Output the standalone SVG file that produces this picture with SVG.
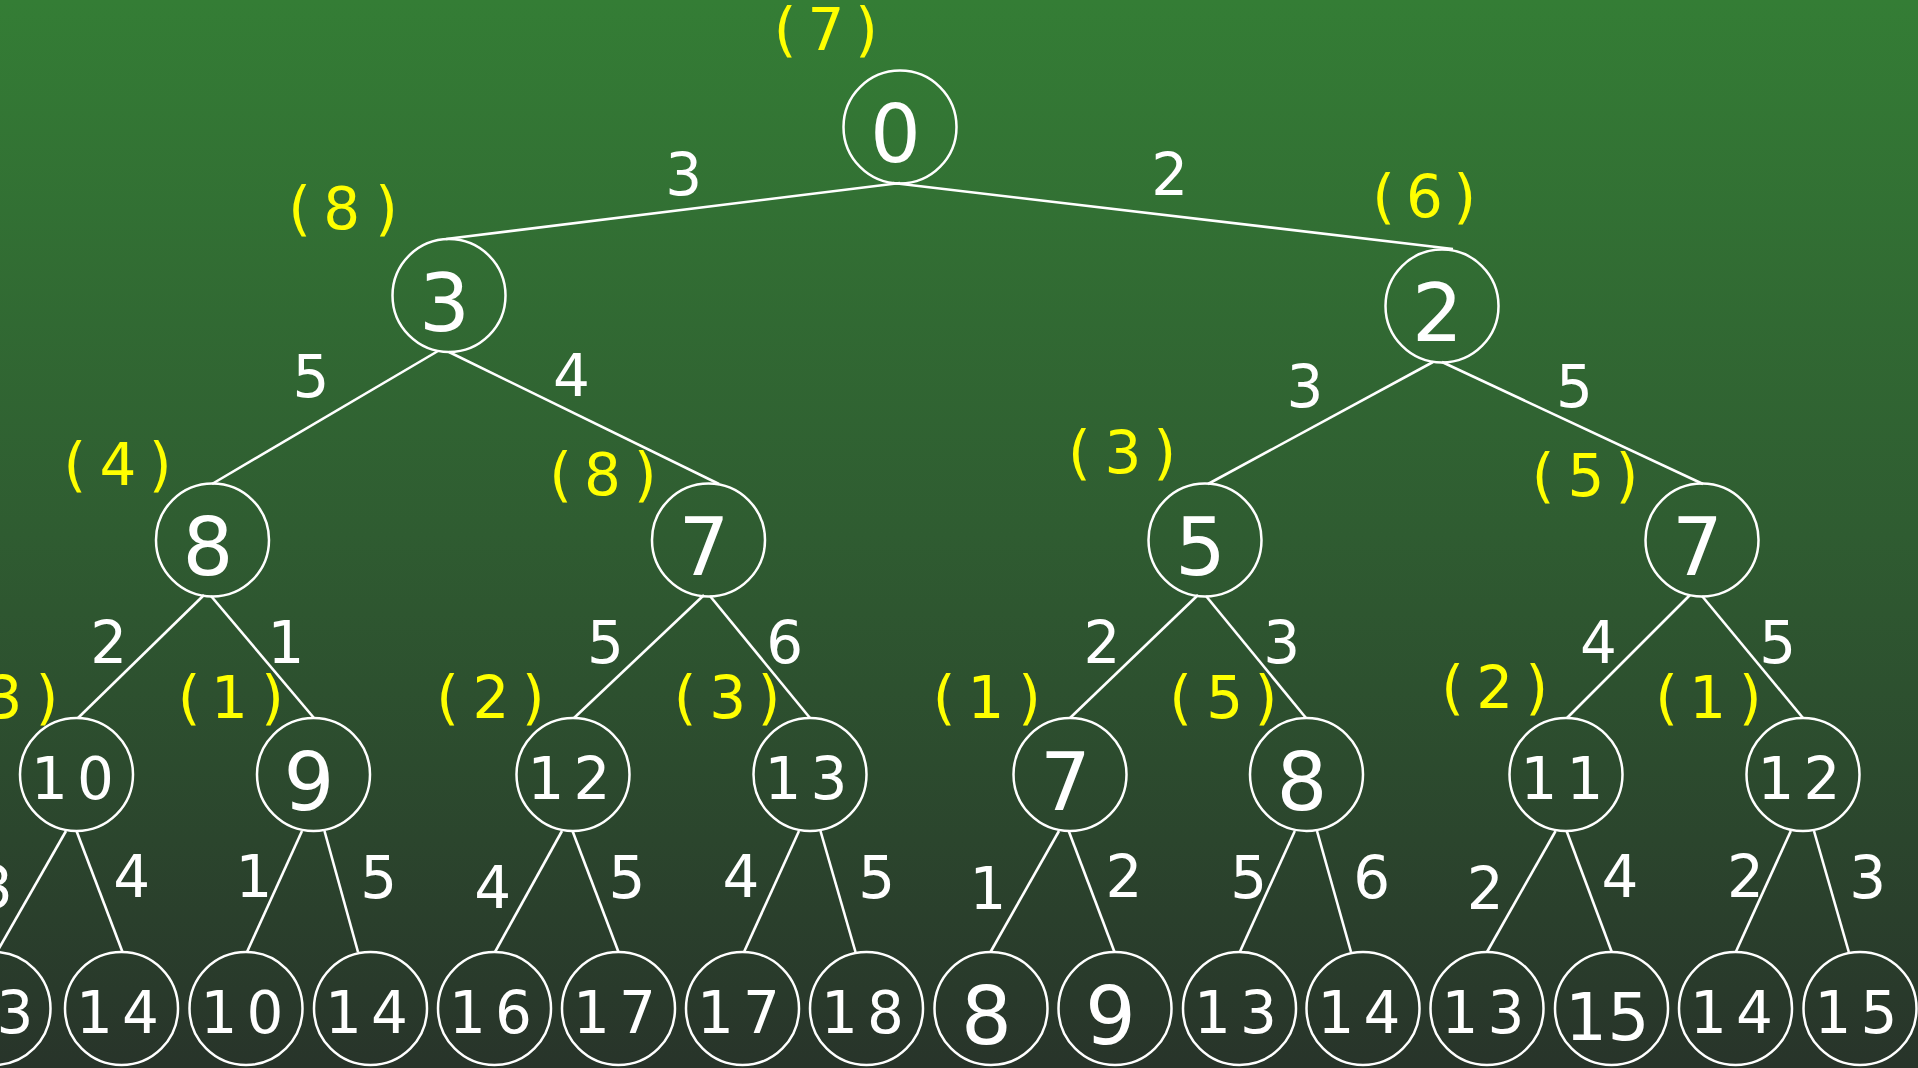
<svg xmlns="http://www.w3.org/2000/svg" width="1918" height="1068" viewBox="0 0 1918 1068">
<defs>
<linearGradient id="bg" x1="0" y1="0" x2="0" y2="1">
<stop offset="0" stop-color="#347D35"/>
<stop offset="0.5" stop-color="#2F5C31"/>
<stop offset="1" stop-color="#28342A"/>
</linearGradient>
<style>
.nd circle{fill:none;stroke:#fff;stroke-width:2.5}
text{font-family:"DejaVu Sans","Liberation Sans",sans-serif;text-anchor:middle}
.nd text{fill:#fff}
.b{font-size:80px}
.m{font-size:58px}
.e{fill:#fff;font-size:58px}
.h{fill:#ffff00;font-size:58px}
#edges line{stroke:#fff;stroke-width:2.6}
</style>
</defs>
<rect width="1918" height="1068" fill="url(#bg)"/>
<g id="edges">
<line x1="900" y1="183" x2="446" y2="239"/>
<line x1="893" y1="183" x2="1453" y2="249"/>
<line x1="438" y1="351" x2="212" y2="484"/>
<line x1="449" y1="352" x2="719" y2="484"/>
<line x1="1433" y1="362" x2="1208" y2="484"/>
<line x1="1442" y1="362" x2="1703" y2="484"/>
<line x1="204" y1="595" x2="78" y2="718"/>
<line x1="211" y1="596" x2="314" y2="718"/>
<line x1="704" y1="595" x2="574" y2="718"/>
<line x1="710" y1="596" x2="810" y2="718"/>
<line x1="1198" y1="595" x2="1070" y2="718"/>
<line x1="1206" y1="596" x2="1306" y2="718"/>
<line x1="1690" y1="595" x2="1567" y2="718"/>
<line x1="1702" y1="596" x2="1803" y2="718"/>
<line x1="66" y1="831" x2="-3" y2="952"/>
<line x1="76.5" y1="831" x2="122.5" y2="952"/>
<line x1="302" y1="831" x2="247" y2="952"/>
<line x1="324.5" y1="831" x2="358" y2="952"/>
<line x1="562" y1="831" x2="495" y2="952"/>
<line x1="572.5" y1="831" x2="618.5" y2="952"/>
<line x1="799" y1="831" x2="744" y2="952"/>
<line x1="820.5" y1="831" x2="855.5" y2="952"/>
<line x1="1059" y1="831" x2="990.5" y2="952"/>
<line x1="1068.7" y1="831" x2="1114.5" y2="952"/>
<line x1="1294.8" y1="831" x2="1239.8" y2="952"/>
<line x1="1317" y1="831" x2="1351" y2="952"/>
<line x1="1555.6" y1="831" x2="1487" y2="952"/>
<line x1="1566.6" y1="831" x2="1611.8" y2="952"/>
<line x1="1790.8" y1="831" x2="1735.8" y2="952"/>
<line x1="1814" y1="831" x2="1848.8" y2="952"/>
</g>
<g id="edge-labels">
<text class="e" x="683.7" y="195">3</text>
<text class="e" x="1169.7" y="195">2</text>
<text class="e" x="311" y="397">5</text>
<text class="e" x="571.4" y="396">4</text>
<text class="e" x="1305" y="407">3</text>
<text class="e" x="1574.5" y="407">5</text>
<text class="e" x="108.7" y="663">2</text>
<text class="e" x="286" y="663">1</text>
<text class="e" x="605.4" y="663">5</text>
<text class="e" x="784.7" y="663">6</text>
<text class="e" x="1102" y="663">2</text>
<text class="e" x="1281.7" y="663">3</text>
<text class="e" x="1598.4" y="663">4</text>
<text class="e" x="1777.8" y="663">5</text>
<text class="e" x="-5.5" y="908">3</text>
<text class="e" x="131.6" y="897">4</text>
<text class="e" x="254" y="897">1</text>
<text class="e" x="378.8" y="898">5</text>
<text class="e" x="492.8" y="908">4</text>
<text class="e" x="627" y="898">5</text>
<text class="e" x="741" y="897">4</text>
<text class="e" x="876.6" y="898">5</text>
<text class="e" x="988" y="909">1</text>
<text class="e" x="1124" y="897">2</text>
<text class="e" x="1248.7" y="898">5</text>
<text class="e" x="1371.8" y="898">6</text>
<text class="e" x="1485.3" y="909">2</text>
<text class="e" x="1620" y="897">4</text>
<text class="e" x="1745.5" y="897">2</text>
<text class="e" x="1867.7" y="898">3</text>
</g>
<g id="costs">
<text class="h" x="785 826 866.5" y="50">(7)</text>
<text class="h" x="299.5 341.7 386.5" y="229">(8)</text>
<text class="h" x="1383.5 1424.4 1464.9" y="217">(6)</text>
<text class="h" x="74.7 118 160.2" y="485">(4)</text>
<text class="h" x="560.5 602.5 645.4" y="495">(8)</text>
<text class="h" x="1079.3 1123 1164.8" y="473">(3)</text>
<text class="h" x="1543 1586 1627" y="496">(5)</text>
<text class="h" x="-38 4 47" y="718">(3)</text>
<text class="h" x="189 229.5 272.5" y="718">(1)</text>
<text class="h" x="447.5 491 533.3" y="718">(2)</text>
<text class="h" x="685 727.6 769" y="718">(3)</text>
<text class="h" x="944 986 1029.5" y="718">(1)</text>
<text class="h" x="1180.5 1224.6 1266" y="718">(5)</text>
<text class="h" x="1452.6 1494.6 1536.7" y="708">(2)</text>
<text class="h" x="1666.5 1707.7 1750.4" y="718">(1)</text>
</g>
<g id="n0" class="nd"><circle cx="900" cy="127" r="56.5"/><text class="b" x="895.5" y="162">0</text></g>
<g id="n1" class="nd"><circle cx="449" cy="295.5" r="56.5"/><text class="b" x="444.5" y="330.5">3</text></g>
<g id="n2" class="nd"><circle cx="1442" cy="306" r="56.5"/><text class="b" x="1437.5" y="341">2</text></g>
<g id="n3" class="nd"><circle cx="212.5" cy="540" r="56.5"/><text class="b" x="208" y="575">8</text></g>
<g id="n4" class="nd"><circle cx="708.5" cy="540" r="56.5"/><text class="b" x="704" y="575">7</text></g>
<g id="n5" class="nd"><circle cx="1205" cy="540" r="56.5"/><text class="b" x="1200.5" y="575">5</text></g>
<g id="n6" class="nd"><circle cx="1702" cy="540" r="56.5"/><text class="b" x="1697.5" y="575">7</text></g>
<g id="n7" class="nd"><circle cx="76.5" cy="774.5" r="56.5"/><text class="m" x="49.5 95.5" y="798.5">10</text></g>
<g id="n8" class="nd"><circle cx="313.5" cy="774.5" r="56.5"/><text class="b" x="309" y="809.5">9</text></g>
<g id="n9" class="nd"><circle cx="573" cy="774.5" r="56.5"/><text class="m" x="546 592" y="798.5">12</text></g>
<g id="n10" class="nd"><circle cx="810" cy="774.5" r="56.5"/><text class="m" x="783 829" y="798.5">13</text></g>
<g id="n11" class="nd"><circle cx="1070" cy="774.5" r="56.5"/><text class="b" x="1065.5" y="809.5">7</text></g>
<g id="n12" class="nd"><circle cx="1306.5" cy="774.5" r="56.5"/><text class="b" x="1302" y="809.5">8</text></g>
<g id="n13" class="nd"><circle cx="1566" cy="774.5" r="56.5"/><text class="m" x="1539 1585" y="798.5">11</text></g>
<g id="n14" class="nd"><circle cx="1803" cy="774.5" r="56.5"/><text class="m" x="1776 1822" y="798.5">12</text></g>
<g id="n15" class="nd"><circle cx="-6" cy="1008.5" r="56.5"/><text class="m" x="-33 15" y="1032.5">13</text></g>
<g id="n16" class="nd"><circle cx="121.5" cy="1008.5" r="56.5"/><text class="m" x="94.5 140.5" y="1032.5">14</text></g>
<g id="n17" class="nd"><circle cx="246" cy="1008.5" r="56.5"/><text class="m" x="219 265" y="1032.5">10</text></g>
<g id="n18" class="nd"><circle cx="370.5" cy="1008.5" r="56.5"/><text class="m" x="343.5 389.5" y="1032.5">14</text></g>
<g id="n19" class="nd"><circle cx="494.5" cy="1008.5" r="56.5"/><text class="m" x="467.5 513.5" y="1032.5">16</text></g>
<g id="n20" class="nd"><circle cx="618.5" cy="1008.5" r="56.5"/><text class="m" x="591.5 637.5" y="1032.5">17</text></g>
<g id="n21" class="nd"><circle cx="742.5" cy="1008.5" r="56.5"/><text class="m" x="715.5 761.5" y="1032.5">17</text></g>
<g id="n22" class="nd"><circle cx="866.5" cy="1008.5" r="56.5"/><text class="m" x="839.5 885.5" y="1032.5">18</text></g>
<g id="n23" class="nd"><circle cx="991" cy="1008.5" r="56.5"/><text class="b" x="986.5" y="1043.5">8</text></g>
<g id="n24" class="nd"><circle cx="1115" cy="1008.5" r="56.5"/><text class="b" x="1110.5" y="1043.5">9</text></g>
<g id="n25" class="nd"><circle cx="1239.5" cy="1008.5" r="56.5"/><text class="m" x="1212.5 1258.5" y="1032.5">13</text></g>
<g id="n26" class="nd"><circle cx="1363" cy="1008.5" r="56.5"/><text class="m" x="1336 1382" y="1032.5">14</text></g>
<g id="n27" class="nd"><circle cx="1487" cy="1008.5" r="56.5"/><text class="m" x="1460 1506" y="1032.5">13</text></g>
<g id="n28" class="nd"><circle cx="1611.5" cy="1008.5" r="56.5"/><text style="font-size:66px" x="1586 1628.5" y="1040">15</text></g>
<g id="n29" class="nd"><circle cx="1735.5" cy="1008.5" r="56.5"/><text class="m" x="1708.5 1754.5" y="1032.5">14</text></g>
<g id="n30" class="nd"><circle cx="1860" cy="1008.5" r="56.5"/><text class="m" x="1833 1879" y="1032.5">15</text></g>
</svg>
